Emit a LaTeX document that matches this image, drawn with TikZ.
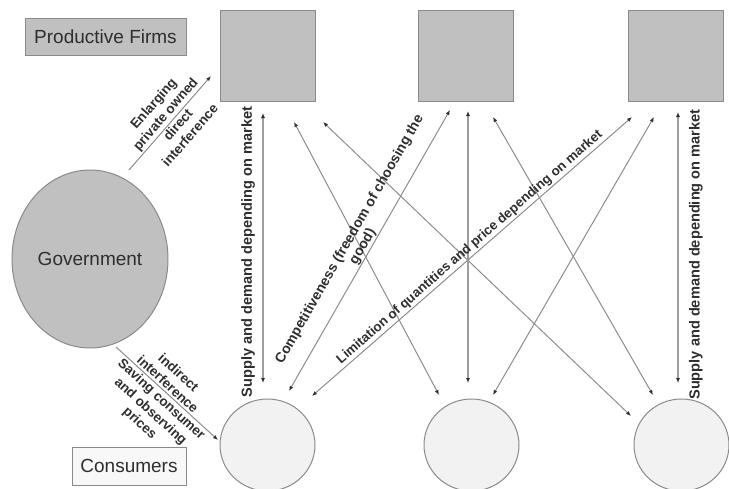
\documentclass[tikz,border=0pt]{standalone}
\usepackage{fontspec}
\setmainfont{Liberation Sans}
\usetikzlibrary{arrows.meta,shapes.geometric}

\definecolor{firmfill}{HTML}{C0C0C0}
\definecolor{edgegray}{HTML}{8A8A8A}
\definecolor{custfill}{HTML}{F2F2F2}
\definecolor{keyfill}{HTML}{F8F8F8}
\definecolor{linkgray}{HTML}{8C8C8C}
\definecolor{inkgray}{HTML}{2E2E2E}

\begin{document}
\begin{tikzpicture}[x=1pt,y=-1pt,
  >={Latex[length=5pt,width=4pt,color=inkgray]},
  firm/.style={draw=edgegray, fill=firmfill, line width=1pt,
    minimum width=95pt, minimum height=91pt, inner sep=0pt},
  cust/.style={ellipse, draw=edgegray, fill=custfill, line width=1pt,
    minimum width=95pt, minimum height=92pt, inner sep=0pt},
  keybox/.style={draw=edgegray, line width=1pt, text=inkgray,
    font=\fontsize{19}{22}\selectfont, inner sep=0pt},
  link/.style={draw=linkgray, line width=1pt},
  vlink/.style={draw=linkgray!85, line width=1.3pt},
  lbl/.style={font=\bfseries\fontsize{14}{15}\selectfont, text=inkgray,
    inner sep=0.5pt, align=center},
  vlbl/.style={font=\bfseries\fontsize{14.6}{16}\selectfont, text=inkgray,
    inner sep=0.5pt},
  govlbl/.style={font=\bfseries\fontsize{13.5}{16}\selectfont, text=inkgray,
    inner sep=0.5pt, align=center}
]
\useasboundingbox (0,0) rectangle (729,488);
\clip (0,0) rectangle (729,488);

% firms, consumers and the government
\node[firm] (f1) at (267.5,55.5) {};
\node[firm] (f2) at (465.5,55.5) {};
\node[firm] (f3) at (675.5,55.5) {};
\node[cust] (c1) at (267.5,445) {};
\node[cust] (c2) at (471.5,445) {};
\node[cust] (c3) at (681.5,445) {};
\node[ellipse, draw=edgegray, fill=firmfill, line width=1pt,
  minimum width=156pt, minimum height=178pt, inner sep=0pt,
  text=inkgray, font=\fontsize{19}{22}\selectfont] (gov) at (90,259) {Government};

% legend boxes
\node[keybox, fill=firmfill, minimum width=161pt, minimum height=37pt]
  (firmkey) at (105.5,36.5) {Productive Firms};
\node[keybox, fill=keyfill, minimum width=114pt, minimum height=38pt]
  (custkey) at (129,466) {Consumers};

% connector end points
\coordinate (g1)  at (129,170); \coordinate (f1g) at (211,76);
\coordinate (g2)  at (116,347); \coordinate (c1g) at (218,440);
\coordinate (f1a) at (263,113); \coordinate (c1a) at (263,383);
\coordinate (f1b) at (294,122); \coordinate (c2b) at (439,395);
\coordinate (f1c) at (323,122); \coordinate (c3c) at (631,416);
\coordinate (f2a) at (450,110); \coordinate (c1b) at (289,391);
\coordinate (f2b) at (468,111); \coordinate (c2a) at (468,383);
\coordinate (f2c) at (493,117); \coordinate (c3b) at (653,395);
\coordinate (f3a) at (632,117); \coordinate (c1c) at (312,396);
\coordinate (f3b) at (654,117); \coordinate (c2c) at (493,395);
\coordinate (f3c) at (678,112); \coordinate (c3a) at (678,383);

% government interference
\draw[link,->] (g1) --
  node[govlbl, sloped, above=1pt, pos=0.53] (lblenl) {Enlarging\\private owned}
  node[govlbl, sloped, below=1pt, pos=0.53] (lbldir) {direct\\interference}
  (f1g);
\draw[link,->] (g2) --
  node[govlbl, sloped, above=1.5pt, pos=0.46] (lblind) {indirect\\interference}
  node[govlbl, sloped, below=1.5pt, pos=0.5] (lblsav) {Saving consumer\\and observing\\prices}
  (c1g);

% market links between firms and consumers
\draw[vlink,<->] (c1a) --
  node[vlbl, sloped, above=7pt, pos=0.485] (lblsd1) {Supply and demand depending on market}
  (f1a);
\draw[link,<->] (f1b) -- (c2b);
\draw[link,<->] (f1c) -- (c3c);
\draw[link,<->] (c1b) --
  node[lbl, sloped, above=0pt] (lblcomp) {Competitiveness (freedom of choosing the\\good)}
  (f2a);
\draw[vlink,<->] (f2b) -- (c2a);
\draw[link,<->] (f2c) -- (c3b);
\draw[link,<->] (c1c) --
  node[lbl, sloped, above=1pt, pos=0.51, font=\bfseries\fontsize{13.3}{15}\selectfont]
  (lbllim) {Limitation of quantities and price depending on market}
  (f3a);
\draw[link,<->] (f3b) -- (c2c);
\draw[vlink,<->] (f3c) -- (c3a);
\node[vlbl, rotate=90] (lblsd3) at (696,254.5)
  {Supply and demand depending on market};
\end{tikzpicture}
\end{document}
